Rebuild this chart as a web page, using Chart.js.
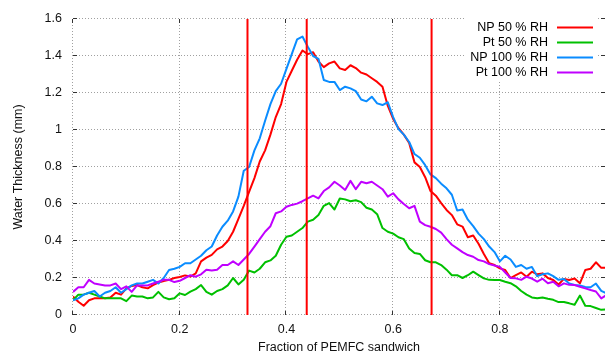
<!DOCTYPE html>
<html>
<head>
<meta charset="utf-8">
<script src="https://cdn.jsdelivr.net/npm/chart.js@4.4.1/dist/chart.umd.min.js"></script>
<style>
  html, body { margin: 0; padding: 0; background: #ffffff; }
  #c { display: block; }
</style>
</head>
<body>
<canvas id="c" width="605" height="355"></canvas>
<script>
// ---- DATA ----
const fractions = [0.00,0.01,0.02,0.03,0.04,0.05,0.06,0.07,0.08,0.09,
  0.10,0.11,0.12,0.13,0.14,0.15,0.16,0.17,0.18,0.19,
  0.20,0.21,0.22,0.23,0.24,0.25,0.26,0.27,0.28,0.29,
  0.30,0.31,0.32,0.33,0.34,0.35,0.36,0.37,0.38,0.39,
  0.40,0.41,0.42,0.43,0.44,0.45,0.46,0.47,0.48,0.49,
  0.50,0.51,0.52,0.53,0.54,0.55,0.56,0.57,0.58,0.59,
  0.60,0.61,0.62,0.63,0.64,0.65,0.66,0.67,0.68,0.69,
  0.70,0.71,0.72,0.73,0.74,0.75,0.76,0.77,0.78,0.79,
  0.80,0.81,0.82,0.83,0.84,0.85,0.86,0.87,0.88,0.89,
  0.90,0.91,0.92,0.93,0.94,0.95,0.96,0.97,0.98,0.99,1.00];

const np50 = [0.10,0.072,0.05,0.08,0.09,0.09,0.09,0.094,0.12,0.11,
  0.144,0.157,0.162,0.15,0.144,0.162,0.175,0.184,0.19,0.20,
  0.205,0.214,0.208,0.225,0.29,0.31,0.325,0.355,0.37,0.40,
  0.45,0.52,0.59,0.665,0.74,0.83,0.89,0.975,1.07,1.14,
  1.26,1.32,1.38,1.43,1.41,1.42,1.37,1.34,1.36,1.37,
  1.333,1.324,1.35,1.335,1.31,1.30,1.28,1.26,1.234,1.13,
  1.06,1.01,0.975,0.93,0.825,0.80,0.745,0.67,0.645,0.605,
  0.568,0.54,0.49,0.478,0.42,0.43,0.385,0.33,0.28,0.27,
  0.252,0.243,0.20,0.216,0.23,0.207,0.234,0.22,0.225,0.20,
  0.189,0.165,0.195,0.189,0.197,0.171,0.243,0.25,0.285,0.255,0.255];

const pt50 = [0.08,0.11,0.11,0.12,0.11,0.10,0.09,0.09,0.09,0.09,
  0.075,0.105,0.10,0.10,0.09,0.095,0.125,0.095,0.085,0.09,
  0.117,0.108,0.126,0.14,0.162,0.125,0.11,0.13,0.14,0.16,
  0.20,0.165,0.19,0.24,0.23,0.25,0.285,0.295,0.32,0.38,
  0.423,0.43,0.45,0.47,0.505,0.515,0.54,0.59,0.605,0.57,
  0.63,0.625,0.615,0.62,0.61,0.58,0.57,0.545,0.47,0.45,
  0.44,0.42,0.41,0.36,0.335,0.33,0.296,0.285,0.285,0.27,
  0.245,0.215,0.215,0.20,0.215,0.234,0.216,0.198,0.19,0.189,
  0.189,0.18,0.172,0.155,0.13,0.11,0.095,0.09,0.095,0.088,
  0.082,0.07,0.07,0.063,0.055,0.105,0.05,0.048,0.038,0.028,0.03];

const np100 = [0.08,0.09,0.11,0.12,0.13,0.10,0.12,0.13,0.15,0.12,
  0.14,0.16,0.17,0.17,0.18,0.19,0.17,0.20,0.243,0.25,
  0.26,0.28,0.28,0.30,0.32,0.35,0.37,0.43,0.477,0.51,
  0.56,0.64,0.78,0.80,0.89,0.955,1.05,1.14,1.21,1.25,
  1.33,1.41,1.49,1.505,1.45,1.40,1.385,1.27,1.26,1.26,
  1.216,1.234,1.225,1.21,1.165,1.155,1.18,1.144,1.135,1.15,
  1.07,1.005,0.975,0.935,0.87,0.85,0.81,0.76,0.74,0.71,
  0.685,0.65,0.565,0.57,0.515,0.48,0.44,0.41,0.37,0.34,
  0.29,0.32,0.30,0.26,0.27,0.25,0.26,0.21,0.22,0.225,
  0.21,0.19,0.195,0.17,0.162,0.16,0.152,0.15,0.17,0.13,0.117];

const pt100 = [0.125,0.15,0.15,0.19,0.17,0.165,0.16,0.16,0.17,0.14,
  0.155,0.125,0.16,0.16,0.16,0.17,0.18,0.19,0.19,0.178,
  0.185,0.20,0.215,0.207,0.22,0.245,0.24,0.245,0.27,0.27,
  0.29,0.27,0.30,0.33,0.37,0.41,0.45,0.48,0.55,0.56,
  0.585,0.595,0.602,0.615,0.63,0.645,0.63,0.67,0.69,0.72,
  0.70,0.676,0.725,0.68,0.72,0.712,0.72,0.70,0.68,0.64,
  0.658,0.625,0.60,0.577,0.59,0.505,0.486,0.477,0.465,0.445,
  0.41,0.38,0.36,0.34,0.324,0.315,0.297,0.29,0.275,0.268,
  0.26,0.23,0.20,0.198,0.19,0.207,0.197,0.18,0.196,0.172,
  0.18,0.155,0.171,0.163,0.162,0.153,0.144,0.135,0.127,0.09,0.108];

const seriesLabels = ['NP 50 % RH', 'Pt 50 % RH', 'NP 100 % RH', 'Pt 100 % RH'];
const seriesColors = ['#ff0000', '#00c000', '#0a8cff', '#c000ff'];
const markerLines = [0.327, 0.438, 0.672];
const yTicks = [0, 0.2, 0.4, 0.6, 0.8, 1, 1.2, 1.4, 1.6];
const xTicks = [0, 0.2, 0.4, 0.6, 0.8];

// ---- BUILD ----
const FONT = { family: '"Liberation Sans", Arial, Helvetica, sans-serif', size: 12.5 };
const allSeries = [np50, pt50, np100, pt100];
const drawOrder = [4, 3, 2, 1];

const datasets = allSeries.map((vals, i) => ({
  label: seriesLabels[i],
  data: fractions.map((f, k) => ({ x: f, y: vals[k] })),
  borderColor: seriesColors[i],
  backgroundColor: seriesColors[i],
  borderWidth: 2,
  pointRadius: 0,
  tension: 0,
  borderJoinStyle: 'round',
  order: drawOrder[i],
  isSeries: true
}));
markerLines.forEach(m => {
  datasets.push({
    label: 'marker',
    data: [{ x: m, y: yTicks[0] }, { x: m, y: yTicks[yTicks.length - 1] }],
    borderColor: '#ff0000',
    borderWidth: 2,
    pointRadius: 0,
    order: 0,
    isSeries: false
  });
});

const frame = {
  id: 'frame',
  beforeDatasetsDraw(chart) {
    const { ctx, chartArea: a, scales: { x, y } } = chart;
    ctx.save();
    ctx.strokeStyle = '#a0a0a0';
    ctx.lineWidth = 1;
    ctx.setLineDash([1, 2]);
    ctx.beginPath();
    xTicks.forEach(v => {
      const px = Math.round(x.getPixelForValue(v)) - 0.5;
      ctx.moveTo(px, a.top); ctx.lineTo(px, a.bottom);
    });
    yTicks.forEach(v => {
      const py = Math.round(y.getPixelForValue(v)) - 0.5;
      ctx.moveTo(a.left, py); ctx.lineTo(a.right, py);
    });
    ctx.stroke();
    ctx.restore();
  },
  afterDatasetsDraw(chart) {
    const { ctx, chartArea: a, scales: { x, y } } = chart;
    ctx.save();
    // inward tick marks, mirrored
    ctx.strokeStyle = '#333';
    ctx.lineWidth = 1;
    ctx.beginPath();
    xTicks.forEach(v => {
      const px = Math.round(x.getPixelForValue(v)) - 0.5;
      ctx.moveTo(px, a.bottom); ctx.lineTo(px, a.bottom - 4);
      ctx.moveTo(px, a.top); ctx.lineTo(px, a.top + 4);
    });
    yTicks.forEach(v => {
      const py = Math.round(y.getPixelForValue(v)) - 0.5;
      ctx.moveTo(a.left, py); ctx.lineTo(a.left + 4, py);
      ctx.moveTo(a.right, py); ctx.lineTo(a.right - 4, py);
    });
    ctx.stroke();

    // legend (text right-aligned, sample line at right)
    const rowH = 15;
    const textRight = 548;
    const lineL = 557, lineR = 593;
    const top0 = 27.5;
    ctx.fillStyle = '#ffffff';
    ctx.fillRect(466, 18, 130, rowH * 4 + 2);
    ctx.font = FONT.size + 'px ' + FONT.family;
    ctx.textAlign = 'right';
    ctx.textBaseline = 'middle';
    chart.data.datasets.filter(d => d.isSeries).forEach((d, i) => {
      const yy = top0 + i * rowH;
      ctx.fillStyle = '#000';
      ctx.fillText(d.label, textRight, yy);
      ctx.strokeStyle = d.borderColor;
      ctx.lineWidth = 2;
      ctx.beginPath();
      ctx.moveTo(lineL, yy); ctx.lineTo(lineR, yy);
      ctx.stroke();
    });
    ctx.restore();
  }
};

new Chart(document.getElementById('c'), {
  type: 'line',
  data: { datasets },
  options: {
    responsive: false,
    animation: false,
    devicePixelRatio: 1,
    layout: { padding: { top: 19, right: 0, left: 0, bottom: 0 } },
    plugins: { legend: { display: false }, tooltip: { enabled: false } },
    scales: {
      x: {
        type: 'linear',
        min: 0,
        max: 0.997,
        afterFit(s) { s.height = 40; },
        afterBuildTicks(s) { s.ticks = xTicks.map(v => ({ value: v })); },
        ticks: { font: FONT, color: '#111', padding: 7, callback: v => String(+v.toFixed(2)), maxRotation: 0 },
        grid: { display: false, drawTicks: false },
        border: { display: false },
        title: { display: true, text: 'Fraction of PEMFC sandwich', font: FONT, color: '#111', padding: { top: 0, bottom: 0 } }
      },
      y: {
        type: 'linear',
        min: 0,
        max: 1.6,
        afterFit(s) { s.width = 73; },
        afterBuildTicks(s) { s.ticks = yTicks.map(v => ({ value: v })); },
        ticks: { font: FONT, color: '#111', padding: 11, callback: v => String(+v.toFixed(2)) },
        grid: { display: false, drawTicks: false },
        border: { display: false },
        title: { display: true, text: 'Water Thickness (mm)', font: FONT, color: '#111', padding: { top: 11, bottom: 0 } }
      }
    }
  },
  plugins: [frame]
});
</script>
</body>
</html>
